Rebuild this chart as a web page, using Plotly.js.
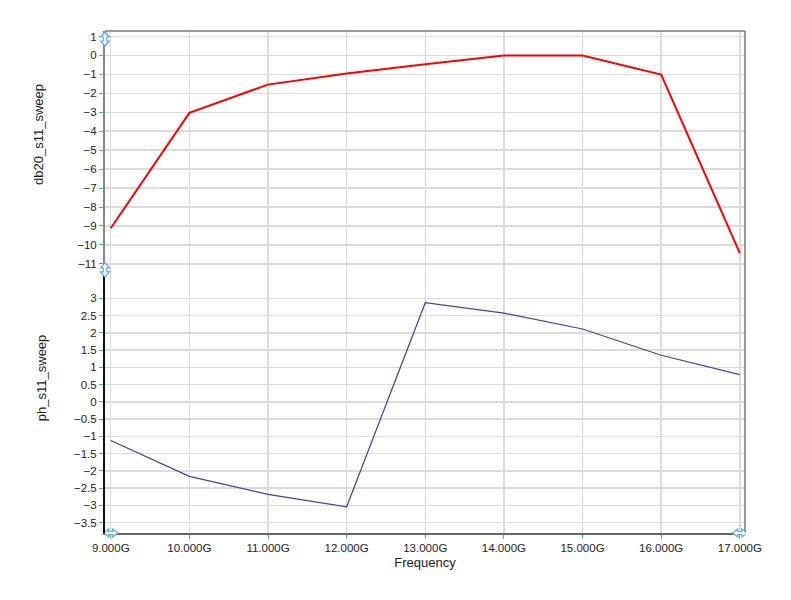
<!DOCTYPE html>
<html>
<head>
<meta charset="utf-8">
<script src="https://cdn.plot.ly/plotly-3.0.1.min.js"></script>
<style>html,body{margin:0;padding:0;background:#fff;}</style>
</head>
<body>
<div id="chart" style="width:791px;height:600px;"></div>
<script>
var freqGHz = [9, 10, 11, 12, 13, 14, 15, 16, 17];
var freqLabels = ["9.000G","10.000G","11.000G","12.000G","13.000G","14.000G","15.000G","16.000G","17.000G"];
var db20_s11 = [-9.12, -3.03, -1.54, -0.95, -0.47, 0.0, 0.0, -1.01, -10.43];
var ph_s11 = [-1.12, -2.16, -2.68, -3.04, 2.87, 2.57, 2.11, 1.35, 0.79];
var dbTicks = [1,0,-1,-2,-3,-4,-5,-6,-7,-8,-9,-10,-11];
var phTicks = [3,2.5,2,1.5,1,0.5,0,-0.5,-1,-1.5,-2,-2.5,-3,-3.5];

var font = {family: "Liberation Sans, Arial, sans-serif", size: 11.5, color: "#222"};
var titleFont = {family: "Liberation Sans, Arial, sans-serif", size: 13, color: "#222"};
var grid = "#dcdcdc";
var tickc = "#55b5b5";
var arrowc = "#5aaef0";

var traces = [
  {x: freqGHz, y: db20_s11, type: "scatter", mode: "lines", xaxis: "x2", yaxis: "y2",
   line: {color: "#ff0000", width: 2}},
  {x: freqGHz, y: ph_s11, type: "scatter", mode: "lines", xaxis: "x", yaxis: "y",
   line: {color: "#4040a8", width: 1.2}}
];

// hollow double-arrow outlines (pixel paths relative to an anchor)
function vArrow(dy) {
  var p = [[0,7],[-4.5,2],[-1.8,2],[-1.8,-2],[-4.5,-2],[0,-7],[4.5,-2],[1.8,-2],[1.8,2],[4.5,2]];
  return "M" + p.map(function(q){return q[0] + "," + (q[1] + dy);}).join(" L") + " Z";
}
function hArrow(dx) {
  var p = [[7,0],[2,-4],[2,-1.5],[-2,-1.5],[-2,-4],[-7,0],[-2,4],[-2,1.5],[2,1.5],[2,4]];
  return "M" + p.map(function(q){return (q[0] + dx) + "," + q[1];}).join(" L") + " Z";
}
var arrowStyle = {color: arrowc, width: 1.2};

var split = 0.526;
var layout = {
  width: 791, height: 600,
  margin: {l: 105, r: 46, t: 31, b: 67},
  paper_bgcolor: "#fff", plot_bgcolor: "#fff",
  showlegend: false,
  font: font,
  xaxis: {
    range: [8.927, 17.066], tickvals: freqGHz, ticktext: freqLabels,
    showgrid: true, gridcolor: grid, gridwidth: 1.5, zeroline: false,
    ticks: "outside", ticklen: 4, tickcolor: tickc, tickwidth: 1,
    showline: true, linecolor: "#666", linewidth: 1.5,
    tickfont: font, anchor: "y",
    title: {text: "Frequency", font: titleFont, standoff: 4}
  },
  xaxis2: {
    range: [8.927, 17.066], tickvals: freqGHz, showticklabels: false,
    showgrid: true, gridcolor: grid, gridwidth: 1.5, zeroline: false,
    ticks: "", showline: false, anchor: "y2", matches: "x"
  },
  yaxis: {
    domain: [0, split], range: [-3.80, 3.85], tickvals: phTicks,
    showgrid: true, gridcolor: grid, gridwidth: 1.5, zeroline: false,
    ticks: "outside", ticklen: 4, tickcolor: tickc,
    showline: true, linecolor: "#111", linewidth: 2,
    tickfont: font, anchor: "x"
  },
  yaxis2: {
    domain: [split, 1], range: [-11.27, 1.29], tickvals: dbTicks,
    showgrid: true, gridcolor: grid, gridwidth: 1.5, zeroline: false,
    ticks: "outside", ticklen: 4, tickcolor: tickc,
    showline: true, linecolor: "#888", linewidth: 2,
    tickfont: font, anchor: "x2"
  },
  shapes: [
    {type: "line", xref: "paper", yref: "paper", x0: 1, x1: 1, y0: 0, y1: 1, line: {color: "#777", width: 1.5}},
    {type: "line", xref: "paper", yref: "paper", x0: 0, x1: 1, y0: 1, y1: 1, line: {color: "#777", width: 1.5}},
    {type: "path", xref: "paper", yref: "paper", xsizemode: "pixel", ysizemode: "pixel",
     xanchor: 0, yanchor: 1, path: vArrow(-8), fillcolor: "#fff", line: arrowStyle},
    {type: "path", xref: "paper", yref: "paper", xsizemode: "pixel", ysizemode: "pixel",
     xanchor: 0, yanchor: split, path: vArrow(-1), fillcolor: "#fff", line: arrowStyle},
    {type: "path", xref: "x", yref: "paper", xsizemode: "pixel", ysizemode: "pixel",
     xanchor: 9, yanchor: 0, path: hArrow(0), fillcolor: "#fff", line: arrowStyle},
    {type: "path", xref: "x", yref: "paper", xsizemode: "pixel", ysizemode: "pixel",
     xanchor: 17, yanchor: 0, path: hArrow(0), fillcolor: "#fff", line: arrowStyle}
  ],
  annotations: [
    {text: "db20_s11_sweep", xref: "paper", yref: "paper", x: -0.103, y: 0.793, textangle: -90,
     showarrow: false, font: titleFont, xanchor: "center", yanchor: "middle"},
    {text: "ph_s11_sweep", xref: "paper", yref: "paper", x: -0.098, y: 0.309, textangle: -90,
     showarrow: false, font: titleFont, xanchor: "center", yanchor: "middle"}
  ]
};

Plotly.newPlot("chart", traces, layout, {displayModeBar: false, staticPlot: true});
</script>
</body>
</html>
